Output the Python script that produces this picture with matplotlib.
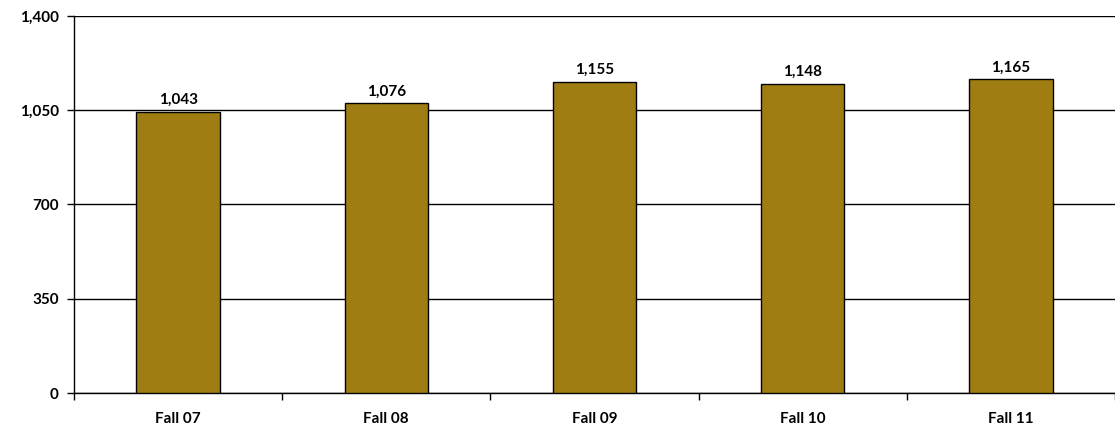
import matplotlib
matplotlib.use("Agg")
import matplotlib.pyplot as plt
import numpy as np

categories = ["Fall 07", "Fall 08", "Fall 09", "Fall 10", "Fall 11"]
values = [1043, 1076, 1155, 1148, 1165]
yticks = [0, 350, 700, 1050, 1400]
ytick_labels = ["0", "350", "700", "1,050", "1,400"]

plt.rcParams['font.family'] = ['Lato', 'DejaVu Sans']
plt.rcParams['font.weight'] = 'bold'

fig = plt.figure(figsize=(11.15, 4.36), dpi=100)
ax = fig.add_axes([74/1115, 43/436, 1041/1115, 377/436])

x = np.arange(len(categories))
ax.bar(x, values, width=0.4, color="#A07D12", edgecolor="black", linewidth=1, zorder=3)
for xi, v in zip(x, values):
    ax.text(xi, v + 18, f"{v:,}", ha="center", va="bottom", fontsize=11, fontweight="bold")

ax.set_xlim(-0.5, len(categories) - 0.5)
ax.set_ylim(0, 1400)
ax.set_yticks(yticks)
ax.set_yticklabels(ytick_labels, fontsize=11, fontweight="bold")
ax.set_xticks(x)
ax.set_xticklabels(categories, fontsize=11, fontweight="bold")
ax.tick_params(axis="x", length=0, pad=14)
ax.set_xticks(np.arange(len(categories) + 1) - 0.5, minor=True)
ax.tick_params(axis="x", which="minor", length=5, width=1, color="black", direction="out")
ax.tick_params(axis="y", length=5, width=1, direction="out", pad=6)
ax.yaxis.grid(True, color="black", linewidth=1, zorder=0)
ax.set_axisbelow(True)
for s in ["top", "right"]:
    ax.spines[s].set_visible(False)
ax.spines["left"].set_linewidth(1)
ax.spines["bottom"].set_linewidth(1)

fig.savefig("out.png", dpi=100)
